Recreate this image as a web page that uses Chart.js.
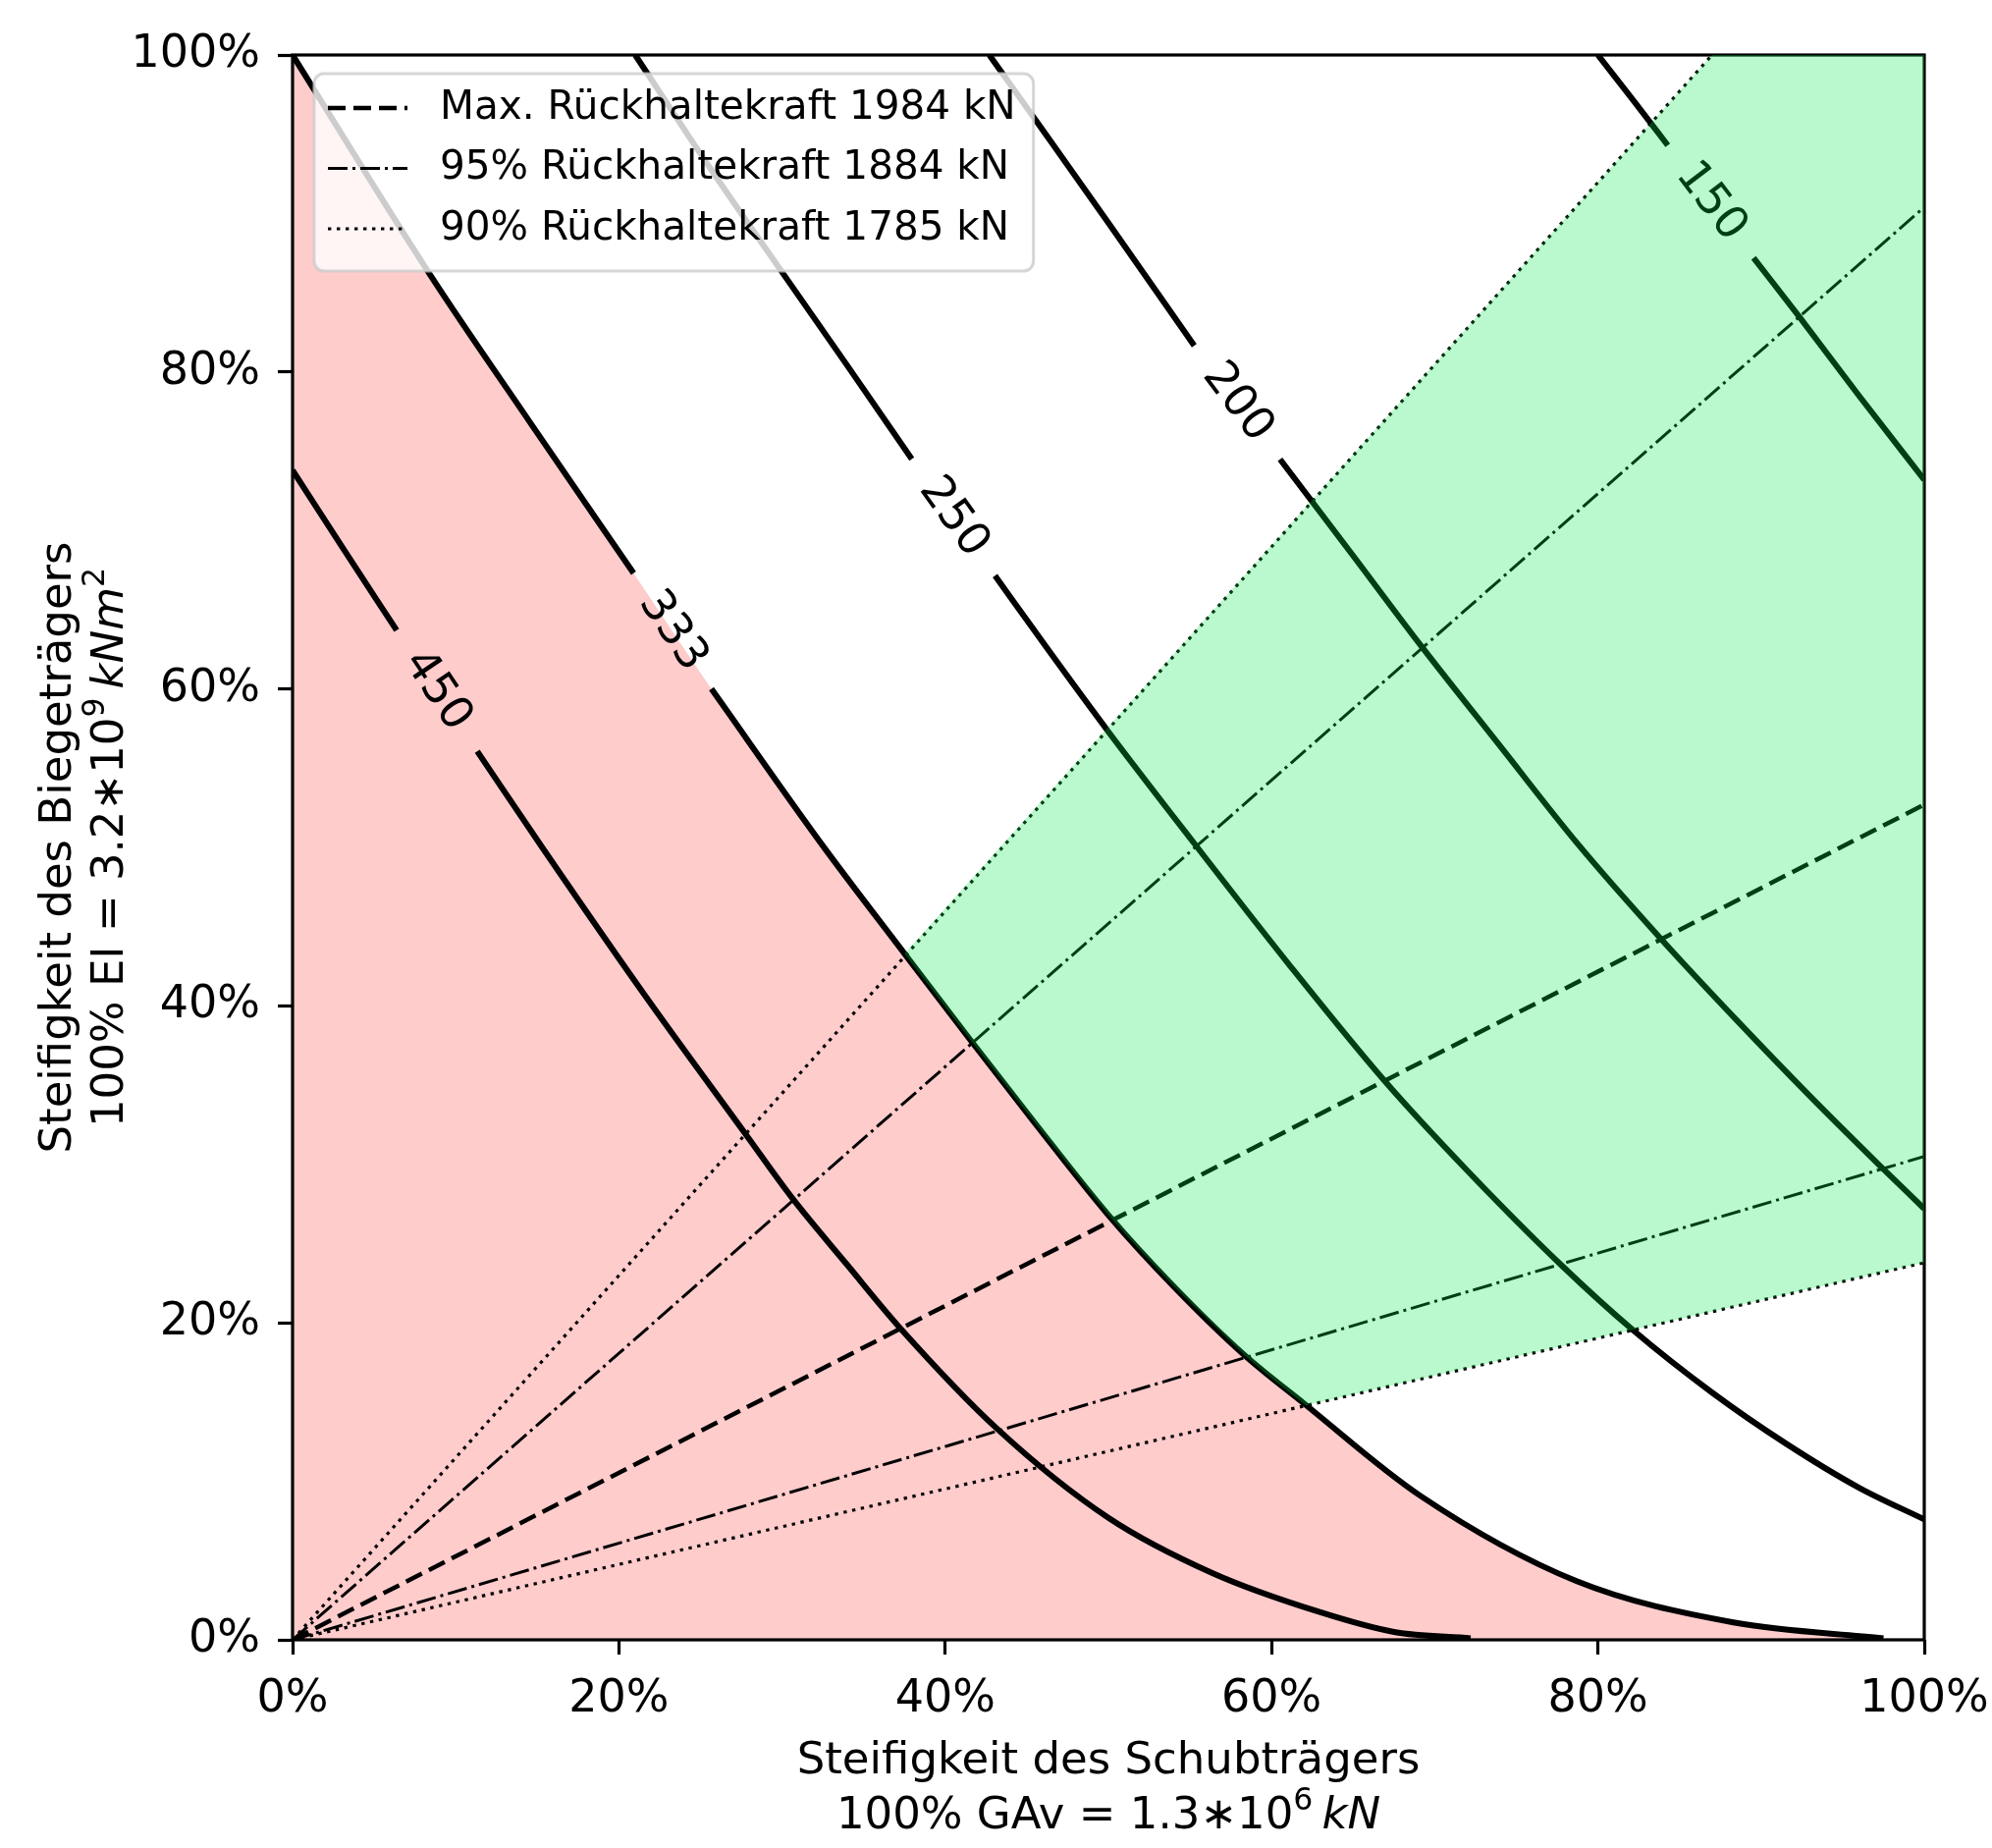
<!DOCTYPE html>
<html lang="de">
<head>
<meta charset="UTF-8" />
<script src="https://cdn.jsdelivr.net/npm/chart.js@4"></script>
<style>
  body { margin: 0; background: #fff; }
  #wrap { width: 2029px; height: 1882px; }
</style>
</head>
<body>
<div id="wrap"><canvas id="chart" width="2029" height="1882"></canvas></div>
<script>
// axes in % of reference stiffness (x: GAv, y: EI)
const tickLabels = ['0%', '20%', '40%', '60%', '80%', '100%'];

// contour curves [x%, y%], null = gap for the inline label
const levels = ['450', '333', '250', '200', '150'];
const contour450 = [[0, 73.8], [3.2, 68.7], [6.38, 63.7], null, [11.32, 56.06], [15.3, 50], [21.5, 40.8], [27.7, 32.0],
  [30.6, 27.9], [34, 23.65], [37.3, 19.6], [43.2, 13.3], [50, 7.7], [56.4, 4.2], [62.8, 1.8], [67.5, 0.5], [72.2, 0.1]];
const contour333 = [[0, 100], [8.45, 86.1], [14.5, 76.9], [20.9, 67.3], null, [25.67, 60.0], [32.5, 50.1], [37.5, 43.3],
  [41.5, 37.9], [45.5, 32.6], [50, 26.8], [54, 22.3], [58.3, 18.0], [62, 14.9], [69.1, 9.1], [78.7, 3.7], [88.3, 1.1], [97.5, 0.1]];
const contour250 = [[21, 100], [25.5, 93], [30, 86.3], [34, 80.4], [37.95, 74.5], null, [43.05, 67.15], [46.5, 62.2],
  [50, 57.3], [55.3, 50.2], [61, 42.7], [66.9, 35.3], [72, 29.6], [77.7, 23.7], [82.2, 19.5], [87, 15.6], [91.5, 12.4], [96, 9.6], [100, 7.6]];
const contour200 = [[42.7, 100], [46.5, 94.5], [50, 89.4], [55.26, 81.66], null, [60.52, 74.49], [65, 68.4], [69.1, 62.8],
  [74, 56.4], [78.7, 50.3], [83.8, 44.3], [88.5, 39.1], [93, 34.3], [97.2, 30.0], [100, 27.2]];
const contour150 = [[80, 100], [82.2, 97.1], [84.28, 94.3], null, [89.54, 87.2], [92.4, 83.4], [96, 78.5], [100, 73.2]];
const contours = [contour450, contour333, contour250, contour200, contour150];

// restraint force lines from the origin
const rayMax = [[0, 0], [100, 52.7]];
const ray95Upper = [[0, 0], [100, 90.4]];
const ray95Lower = [[0, 0], [100, 30.5]];
const ray90Upper = [[0, 0], [87.0, 100]];
const ray90Lower = [[0, 0], [100, 23.8]];

// green zone: between the 90% lines, above the 333 curve
const greenUpper = [[37.5, 43.3], [87.0, 100], [100, 100]];
const greenLower = [[37.5, 43.3], [39.5, 40.6], [41.5, 37.9], [43.5, 35.25], [45.5, 32.6], [47.7, 29.75], [50, 26.8],
  [52, 24.5], [54, 22.3], [56, 20.3], [58.3, 18.0], [60, 16.5], [62.1, 14.8], [100, 23.8]];

const legendLabels = ['Max. Rückhaltekraft 1984 kN', '95% Rückhaltekraft 1884 kN', '90% Rückhaltekraft 1785 kN'];

const xTitle = [
  [['Steifigkeit des Schubträgers', '']],
  [['100% GAv = 1.3', ''], ['\u2217', ''], ['10', ''], ['6', 'sup'], ['\u2009', ''], ['kN', 'it']]
];
const yTitle = [
  [['Steifigkeit des Biegeträgers', '']],
  [['100% EI = 3.2', ''], ['\u2217', ''], ['10', ''], ['9', 'sup'], ['\u2009', ''], ['kNm', 'it'], ['2', 'sup']]
];

const FONT = '"DejaVu Sans"';
const dashed = { w: 4.5, dash: [18, 8] };
const dashdot = { w: 3, dash: [20, 5, 3, 5] };
const dotted = { w: 3.2, dash: [3.4, 5.6] };
const legendStyles = [dashed, dashdot, dotted];

const toPts = arr => arr.map(p => p ? { x: p[0], y: p[1] } : { x: null, y: null });

const datasets = [
  { data: toPts(greenUpper), fill: { target: 1 }, backgroundColor: 'rgba(0, 230, 70, 0.27)', borderWidth: 0, borderColor: 'transparent' },
  { data: toPts(greenLower), fill: false, borderWidth: 0, borderColor: 'transparent', cubicInterpolationMode: 'default', tension: 0 }
];
contours.forEach(c => datasets.push({ data: toPts(c), borderColor: '#000', borderWidth: 6, fill: false, cubicInterpolationMode: 'monotone' }));
[[ray90Upper, dotted], [ray95Upper, dashdot], [rayMax, dashed], [ray95Lower, dashdot], [ray90Lower, dotted]].forEach(([r, s]) => {
  datasets.push({ data: toPts(r), borderColor: '#000', borderWidth: s.w, borderDash: s.dash, fill: false });
});
datasets.push({ data: toPts(contour333.filter(Boolean)), fill: 'origin', backgroundColor: '#ffcccc', borderWidth: 0,
  borderColor: 'transparent', cubicInterpolationMode: 'monotone' });

function drawRich(ctx, segs, cx, baseY, size) {
  const parts = segs.map(([t, s]) => {
    const fs = s === 'sup' ? size * 0.7 : size;
    const font = (s === 'it' ? 'italic ' : '') + fs + 'px ' + FONT;
    ctx.font = font;
    return { t, s, font, w: ctx.measureText(t).width };
  });
  const total = parts.reduce((a, p) => a + p.w, 0);
  let x = cx - total / 2;
  ctx.textAlign = 'left';
  ctx.textBaseline = 'alphabetic';
  parts.forEach(p => {
    ctx.font = p.font;
    ctx.fillText(p.t, x, p.s === 'sup' ? baseY - size * 0.42 : baseY);
    x += p.w;
  });
}

const overlay = {
  id: 'overlay',
  // frame and contour labels go under the green layer
  afterDatasetDraw(chart, args) {
    if (args.index !== 1) return;
    const { ctx, chartArea: a, scales: { x, y } } = chart;
    ctx.save();
    ctx.strokeStyle = '#000';
    ctx.lineWidth = 3.2;
    ctx.strokeRect(a.left, a.top, a.right - a.left, a.bottom - a.top);
    ctx.fillStyle = '#000';
    ctx.font = '46px ' + FONT;
    ctx.textAlign = 'center';
    ctx.textBaseline = 'middle';
    contours.forEach((c, i) => {
      const k = c.indexOf(null);
      const p = c[k - 1], q = c[k + 1];
      const x1 = x.getPixelForValue(p[0]), y1 = y.getPixelForValue(p[1]);
      const x2 = x.getPixelForValue(q[0]), y2 = y.getPixelForValue(q[1]);
      ctx.save();
      ctx.translate((x1 + x2) / 2, (y1 + y2) / 2);
      ctx.rotate(Math.atan2(y2 - y1, x2 - x1));
      ctx.fillText(levels[i], 0, 0);
      ctx.restore();
    });
    ctx.restore();
  },
  afterDraw(chart) {
    const { ctx, chartArea: a } = chart;
    ctx.save();
    // legend
    ctx.font = '40.5px ' + FONT;
    const maxW = Math.max(...legendLabels.map(t => ctx.measureText(t).width));
    const lx = a.left + 22, ly = a.top + 19, lw = 128 + maxW + 18, lh = 201;
    ctx.beginPath();
    ctx.roundRect(lx, ly, lw, lh, 10);
    ctx.fillStyle = 'rgba(255,255,255,0.8)';
    ctx.fill();
    ctx.strokeStyle = 'rgba(204,204,204,0.8)';
    ctx.lineWidth = 3;
    ctx.stroke();
    legendLabels.forEach((t, i) => {
      const ry = ly + 35 + i * 61.5;
      const s = legendStyles[i];
      ctx.beginPath();
      ctx.setLineDash(s.dash);
      ctx.lineWidth = s.w;
      ctx.strokeStyle = '#000';
      ctx.moveTo(lx + 14, ry);
      ctx.lineTo(lx + 95, ry);
      ctx.stroke();
      ctx.setLineDash([]);
      ctx.fillStyle = '#000';
      ctx.font = '40.5px ' + FONT;
      ctx.textAlign = 'left';
      ctx.textBaseline = 'middle';
      ctx.fillText(t, lx + 128, ry);
    });
    // axis titles
    ctx.fillStyle = '#000';
    const cx = (a.left + a.right) / 2, cy = (a.top + a.bottom) / 2;
    drawRich(ctx, xTitle[0], cx, a.bottom + 136, 45);
    drawRich(ctx, xTitle[1], cx, a.bottom + 192, 45);
    ctx.translate(0, cy);
    ctx.rotate(-Math.PI / 2);
    drawRich(ctx, yTitle[0], 0, a.left - 226, 45);
    drawRich(ctx, yTitle[1], 0, a.left - 173, 45);
    ctx.restore();
  }
};

const axisTicks = { font: { family: 'DejaVu Sans', size: 46 }, color: '#000', stepSize: 20, autoSkip: false, maxRotation: 0, padding: 18,
  callback: (v, i) => tickLabels[i] };
const axisGrid = { drawOnChartArea: false, drawTicks: true, tickLength: 15, tickWidth: 3.2, tickColor: '#000' };

new Chart(document.getElementById('chart'), {
  type: 'line',
  data: { datasets },
  options: {
    responsive: false,
    animation: false,
    devicePixelRatio: 1,
    layout: { padding: { left: 0, top: 56, right: 69, bottom: 0 } },
    elements: { point: { radius: 0 }, line: { tension: 0, borderCapStyle: 'butt', borderJoinStyle: 'round' } },
    datasets: { line: { clip: 0, pointRadius: 0 } },
    plugins: { legend: { display: false }, tooltip: { enabled: false } },
    scales: {
      x: { type: 'linear', min: 0, max: 100, ticks: axisTicks, grid: axisGrid, border: { display: false },
        afterFit: s => { s.height = 212; s.paddingLeft = 0; s.paddingRight = 0; } },
      y: { type: 'linear', min: 0, max: 100, ticks: axisTicks, grid: axisGrid, border: { display: false },
        afterFit: s => { s.width = 298; s.paddingTop = 0; s.paddingBottom = 0; } }
    }
  },
  plugins: [overlay]
});
</script>
</body>
</html>
